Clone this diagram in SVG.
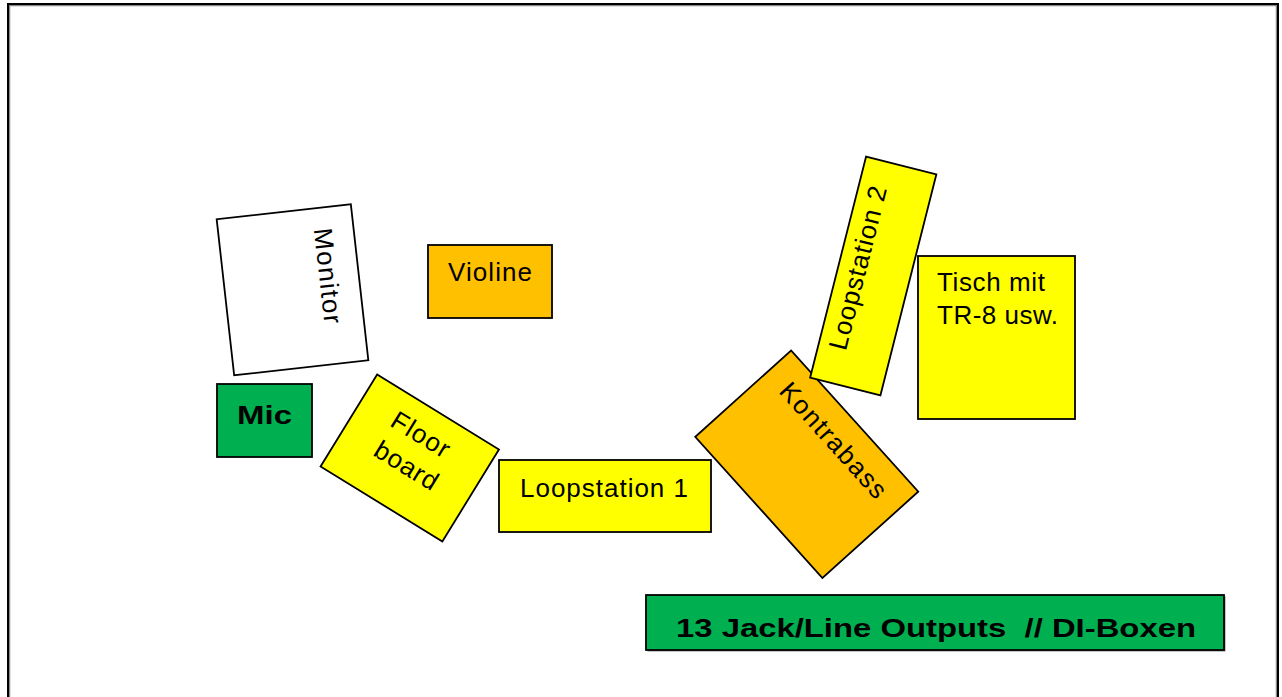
<svg xmlns="http://www.w3.org/2000/svg" width="1282" height="697" viewBox="0 0 1282 697">
<style>
.box{stroke:#000;stroke-width:1.8}
.y{fill:#FFFF00}.o{fill:#FFC000}.g{fill:#00B050}.w{fill:#FFFFFF}
text{font-family:"Liberation Sans",Arial,sans-serif;font-size:26px;fill:#000;text-anchor:middle;white-space:pre}
.b{font-weight:bold}
</style>
<rect width="1282" height="697" fill="#fff"/>
<g id="frame">
<rect x="9.5" y="5.5" width="1267" height="720" fill="none" stroke="#888" stroke-width="1.5"/>
<rect x="8" y="4" width="1270" height="720" fill="none" stroke="#000" stroke-width="2"/>
</g>
<g id="connectors"></g>
<g id="monitor" transform="translate(292.5,289.75) rotate(83.6)">
<rect class="box w" x="-78.5" y="-67.5" width="157" height="135"/>
<text x="-10" y="-28" textLength="96">Monitor</text>
</g>
<g id="mic">
<rect class="box g" x="217" y="384" width="95" height="73"/>
<text class="b" x="264.5" y="424" font-size="29" textLength="55" lengthAdjust="spacingAndGlyphs">Mic</text>
</g>
<g id="violine">
<rect class="box o" x="428" y="245" width="124" height="73"/>
<text x="490" y="281" textLength="84">Violine</text>
</g>
<g id="floorboard" transform="translate(409.75,458) rotate(31.6)">
<rect class="box y" x="-71.5" y="-54" width="143" height="108"/>
<text x="-3" y="-17" textLength="64">Floor</text>
<text x="1" y="17" textLength="70">board</text>
</g>
<g id="loopstation1">
<rect class="box y" x="499" y="460" width="212" height="72"/>
<text x="604" y="497" textLength="168">Loopstation 1</text>
</g>
<g id="kontrabass" transform="translate(806.75,464.25) rotate(48)">
<rect class="box o" x="-95" y="-64.5" width="190" height="129"/>
<text x="0" y="-27" textLength="146">Kontrabass</text>
</g>
<g id="loopstation2" transform="translate(873.25,276) rotate(-75.8)">
<rect class="box y" x="-114" y="-36.25" width="228" height="72.5"/>
<text x="4" y="-8" textLength="168">Loopstation 2</text>
</g>
<g id="tisch">
<rect class="box y" x="918" y="256" width="157" height="163"/>
<text x="937" y="291" style="text-anchor:start" textLength="108">Tisch mit</text>
<text x="937" y="324" style="text-anchor:start" textLength="121">TR-8 usw.</text>
</g>
<g id="outputs">
<rect x="647.5" y="596.5" width="578" height="55" fill="#888"/>
<rect class="box g" x="646" y="595" width="578" height="55"/>
<text class="b" x="936" y="637" font-size="29" textLength="520" lengthAdjust="spacingAndGlyphs">13 Jack/Line Outputs  // DI-Boxen</text>
</g>
</svg>
